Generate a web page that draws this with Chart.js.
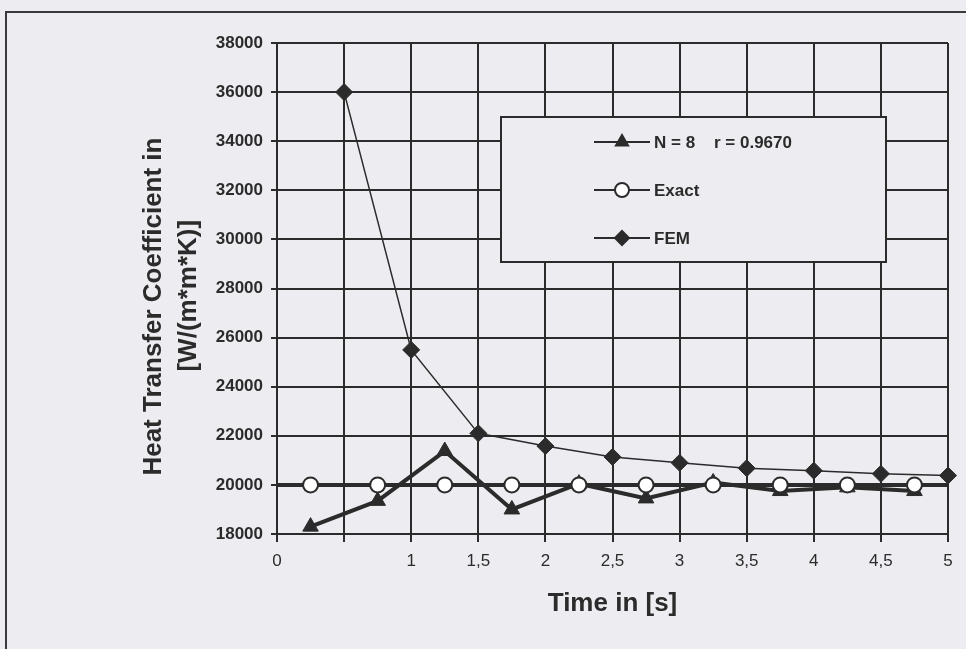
<!DOCTYPE html>
<html>
<head>
<meta charset="utf-8">
<script src="https://cdn.jsdelivr.net/npm/chart.js@4.4.0/dist/chart.umd.min.js"></script>
<style>
  html, body { margin: 0; padding: 0; background: #ededf1; overflow: hidden; }
  .frame {
    position: absolute; left: 5px; top: 11px; width: 980px; height: 660px;
    border-left: 2px solid #3a3a3a; border-top: 2px solid #3a3a3a;
  }
  #myChart { position: absolute; left: 0; top: 0; }
</style>
</head>
<body>
<div class="frame"></div>
<canvas id="myChart" width="966" height="649"></canvas>
<script>
// values
const timeMid = [0.25, 0.75, 1.25, 1.75, 2.25, 2.75, 3.25, 3.75, 4.25, 4.75];
const fitValues = [18300, 19350, 21380, 19000, 20050, 19450, 20100, 19750, 19900, 19750];

const exactTime = [0, 0.25, 0.75, 1.25, 1.75, 2.25, 2.75, 3.25, 3.75, 4.25, 4.75, 5];
const exactValues = [20000, 20000, 20000, 20000, 20000, 20000, 20000, 20000, 20000, 20000, 20000, 20000];

const femTime = [0.5, 1, 1.5, 2, 2.5, 3, 3.5, 4, 4.5, 5];
const femValues = [36000, 25500, 22100, 21580, 21140, 20900, 20680, 20580, 20450, 20380];

const xTickLabels = ['0', '', '1', '1,5', '2', '2,5', '3', '3,5', '4', '4,5', '5'];

const seriesNames = ['N = 8    r = 0.9670', 'Exact', 'FEM'];

const ink = '#2b2b2b';
const font = 'Liberation Sans, Arial, sans-serif';

function pts(xs, ys) {
    return xs.map(function (x, i) { return { x: x, y: ys[i] }; });
}

// legend drawn inside the plot, as in the picture
const boxLegend = {
    id: 'boxLegend',
    afterDraw: function (chart) {
        const ctx = chart.ctx;
        const area = chart.chartArea;
        const bx = area.left + 224, by = area.top + 74, bw = 385, bh = 145;
        ctx.save();
        ctx.fillStyle = '#ededf1';
        ctx.fillRect(bx, by, bw, bh);
        ctx.lineWidth = 2;
        ctx.strokeStyle = ink;
        ctx.strokeRect(bx, by, bw, bh);

        chart.data.datasets.forEach(function (ds, i) {
            const y = by + 25 + i * 48;
            ctx.strokeStyle = ink;
            ctx.lineWidth = 2;
            ctx.beginPath();
            ctx.moveTo(bx + 93, y);
            ctx.lineTo(bx + 149, y);
            ctx.stroke();

            ctx.fillStyle = ds.pointBackgroundColor;
            ctx.strokeStyle = ink;
            Chart.helpers.drawPoint(ctx, {
                pointStyle: ds.pointStyle,
                radius: 7,
                rotation: 0,
                borderWidth: ds.pointBorderWidth
            }, bx + 121, y);

            ctx.fillStyle = ink;
            ctx.font = 'bold 17px ' + font;
            ctx.textBaseline = 'middle';
            ctx.textAlign = 'left';
            ctx.fillText(ds.label, bx + 153, y + 1);
        });
        ctx.restore();
    }
};

var ctx = document.getElementById('myChart').getContext('2d');
var myChart = new Chart(ctx, {
    type: 'line',
    data: {
        datasets: [{
            label: seriesNames[0],
            data: pts(timeMid, fitValues),
            order: 3,
            borderColor: ink,
            borderWidth: 4,
            pointStyle: 'triangle',
            pointRadius: 9,
            pointBackgroundColor: ink,
            pointBorderColor: ink,
            pointBorderWidth: 1,
            clip: false
        }, {
            label: seriesNames[1],
            data: pts(exactTime, exactValues),
            order: 2,
            borderColor: ink,
            borderWidth: 4,
            pointStyle: 'circle',
            pointRadius: function (c) {
                return (c.dataIndex === 0 || c.dataIndex === exactTime.length - 1) ? 0 : 7.5;
            },
            pointBackgroundColor: '#ffffff',
            pointBorderColor: ink,
            pointBorderWidth: 2,
            clip: false
        }, {
            label: seriesNames[2],
            data: pts(femTime, femValues),
            order: 1,
            borderColor: ink,
            borderWidth: 1.5,
            pointStyle: 'rectRot',
            pointRadius: 8.5,
            pointBackgroundColor: ink,
            pointBorderColor: ink,
            pointBorderWidth: 1,
            clip: false
        }]
    },
    options: {
        responsive: false,
        animation: false,
        layout: { padding: { left: 0, top: 43, right: 18, bottom: 0 } },
        plugins: {
            legend: { display: false },
            tooltip: { enabled: false }
        },
        scales: {
            x: {
                type: 'linear',
                min: 0,
                max: 5,
                afterFit: function (scale) { scale.height = 115; },
                afterBuildTicks: function (scale) {
                    scale.ticks = xTickLabels.map(function (t, i) { return { value: i * 0.5 }; });
                },
                ticks: {
                    autoSkip: false,
                    maxRotation: 0,
                    padding: 9,
                    color: ink,
                    font: { family: font, size: 17 },
                    callback: function (value, index) { return xTickLabels[index]; }
                },
                grid: { color: ink, lineWidth: 2, tickLength: 8 },
                border: { color: ink, width: 2 },
                title: {
                    display: true,
                    text: 'Time in [s]',
                    color: ink,
                    font: { family: font, size: 26, weight: 'bold' },
                    padding: { top: 0, bottom: 30 }
                }
            },
            y: {
                min: 18000,
                max: 38000,
                afterFit: function (scale) { scale.width = 277; },
                ticks: {
                    stepSize: 2000,
                    padding: 8,
                    color: ink,
                    font: { family: font, size: 17, weight: 'bold' },
                    callback: function (value) { return String(value); }
                },
                grid: { color: ink, lineWidth: 2, tickLength: 6 },
                border: { color: ink, width: 2 },
                title: {
                    display: true,
                    text: ['Heat Transfer Coefficient in     ', '[W/(m*m*K)]  '],
                    color: ink,
                    font: { family: font, size: 26, weight: 'bold', lineHeight: 1.35 },
                    padding: { top: 136, bottom: 0 }
                }
            }
        }
    },
    plugins: [boxLegend]
});
</script>
</body>
</html>
